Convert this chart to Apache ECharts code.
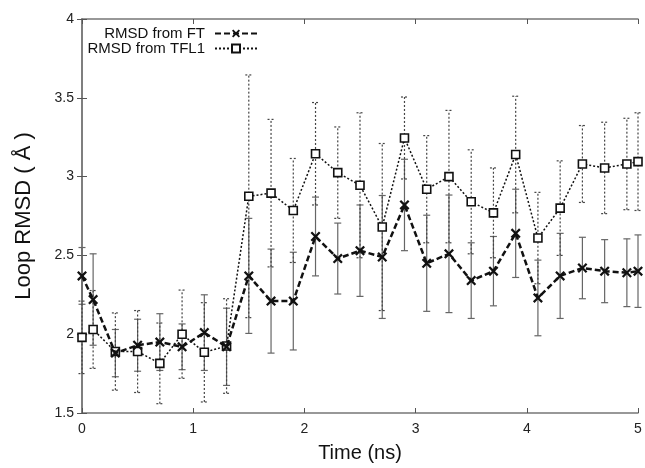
<!DOCTYPE html>
<html>
<head>
<meta charset="utf-8">
<script src="https://cdn.jsdelivr.net/npm/echarts@6/dist/echarts.min.js"></script>
<style>
html,body{margin:0;padding:0;background:#fff;}
#chart{width:645px;height:468px;}
</style>
</head>
<body>
<div id="chart"></div>
<script>
// Data
var time = [0, 0.1, 0.3, 0.5, 0.7, 0.9, 1.1, 1.3, 1.5, 1.7, 1.9, 2.1, 2.3, 2.5, 2.7, 2.9, 3.1, 3.3, 3.5, 3.7, 3.9, 4.1, 4.3, 4.5, 4.7, 4.9, 5.0];
var ftMean = [2.37, 2.22, 1.88, 1.93, 1.95, 1.92, 2.01, 1.92, 2.37, 2.21, 2.21, 2.62, 2.48, 2.53, 2.49, 2.82, 2.45, 2.51, 2.34, 2.40, 2.64, 2.23, 2.37, 2.42, 2.40, 2.39, 2.40];
var ftErr = [0.18, 0.29, 0.15, 0.165, 0.18, 0.145, 0.24, 0.245, 0.365, 0.33, 0.31, 0.25, 0.225, 0.29, 0.39, 0.29, 0.305, 0.373, 0.24, 0.22, 0.28, 0.24, 0.27, 0.195, 0.20, 0.215, 0.23];
var tflMean = [1.98, 2.03, 1.89, 1.89, 1.815, 2.00, 1.885, 1.925, 2.875, 2.895, 2.785, 3.145, 3.025, 2.945, 2.68, 3.245, 2.92, 3.00, 2.84, 2.77, 3.14, 2.61, 2.80, 3.08, 3.055, 3.08, 3.095];
var tflErr = [0.23, 0.247, 0.245, 0.26, 0.256, 0.28, 0.315, 0.30, 0.77, 0.468, 0.33, 0.325, 0.29, 0.46, 0.53, 0.26, 0.34, 0.42, 0.33, 0.285, 0.37, 0.29, 0.30, 0.244, 0.29, 0.29, 0.31];
var xTicks = [0, 1, 2, 3, 4, 5];
var yTicks = [1.5, 2, 2.5, 3, 3.5, 4];
var seriesNames = ['RMSD from FT', 'RMSD from TFL1'];

var FONT = '"Liberation Sans", Arial, sans-serif';
var X_MARK = 'path://M0,1.6 L1.6,0 L5,3.4 L8.4,0 L10,1.6 L6.6,5 L10,8.4 L8.4,10 L5,6.6 L1.6,10 L0,8.4 L3.4,5 Z';

function pairs(xs, ys) { return xs.map(function (x, i) { return [x, ys[i]]; }); }
function errData(xs, m, e) { return xs.map(function (x, i) { return [x, m[i] - e[i], m[i] + e[i]]; }); }

function errRender(color, dash) {
  return function (params, api) {
    var x = api.value(0), lo = api.value(1), hi = api.value(2);
    var pLo = api.coord([x, lo]), pHi = api.coord([x, hi]);
    var hw = 3.5;
    var st = { stroke: color, lineWidth: 1.2, lineDash: dash };
    return {
      type: 'group',
      children: [
        { type: 'line', shape: { x1: pLo[0], y1: pLo[1], x2: pHi[0], y2: pHi[1] }, style: st },
        { type: 'line', shape: { x1: pLo[0] - hw, y1: pLo[1], x2: pLo[0] + hw, y2: pLo[1] }, style: st },
        { type: 'line', shape: { x1: pHi[0] - hw, y1: pHi[1], x2: pHi[0] + hw, y2: pHi[1] }, style: st }
      ]
    };
  };
}

var axisLine = { show: true, lineStyle: { color: '#777', width: 1.5 } };
var tickIn = { show: true, inside: true, length: 5, lineStyle: { color: '#555', width: 1 } };
var legendText = { fontFamily: FONT, fontSize: 15, color: '#111', padding: [0, 5, 0, 0] };

var chart = echarts.init(document.getElementById('chart'), null, { renderer: 'canvas' });
chart.setOption({
  animation: false,
  backgroundColor: '#ffffff',
  textStyle: { fontFamily: FONT },
  grid: { left: 82, right: 7, top: 19, bottom: 52 },
  legend: [
    {
      data: [seriesNames[0]], right: 382, top: 21, orient: 'vertical', align: 'right',
      itemWidth: 42, itemHeight: 10, selectedMode: false, textStyle: legendText
    },
    {
      data: [seriesNames[1]], right: 382, top: 36, orient: 'vertical', align: 'right',
      itemWidth: 42, itemHeight: 10, selectedMode: false, textStyle: legendText
    }
  ],
  xAxis: [
    {
      type: 'value', min: xTicks[0], max: xTicks[xTicks.length - 1], interval: 1,
      name: 'Time (ns)', nameLocation: 'middle', nameGap: 30,
      nameTextStyle: { fontFamily: FONT, fontSize: 20, color: '#111' },
      axisLine: axisLine, axisTick: tickIn, splitLine: { show: false },
      axisLabel: { fontFamily: FONT, fontSize: 14, color: '#222', margin: 9 }
    },
    {
      type: 'value', position: 'top', min: xTicks[0], max: xTicks[xTicks.length - 1], interval: 1,
      axisLine: axisLine, axisTick: tickIn, splitLine: { show: false }, axisLabel: { show: false }
    }
  ],
  yAxis: [
    {
      type: 'value', min: yTicks[0], max: yTicks[yTicks.length - 1], interval: 0.5,
      name: 'Loop RMSD ( Å )', nameLocation: 'middle', nameGap: 47,
      nameTextStyle: { fontFamily: FONT, fontSize: 22, color: '#111' },
      axisLine: axisLine, axisTick: tickIn, splitLine: { show: false },
      axisLabel: { fontFamily: FONT, fontSize: 14, color: '#222', margin: 8 }
    },
    {
      type: 'value', position: 'right', min: yTicks[0], max: yTicks[yTicks.length - 1], interval: 0.5,
      axisLine: axisLine, axisTick: tickIn, splitLine: { show: false }, axisLabel: { show: false }
    }
  ],
  series: [
    {
      type: 'custom', name: 'ftErr', renderItem: errRender('#666', null),
      data: errData(time, ftMean, ftErr), encode: { x: 0, y: [1, 2] }, clip: false, z: 2, silent: true
    },
    {
      type: 'custom', name: 'tflErr', renderItem: errRender('#444', [2, 2]),
      data: errData(time, tflMean, tflErr), encode: { x: 0, y: [1, 2] }, clip: false, z: 2, silent: true
    },
    {
      type: 'line', name: seriesNames[1], data: pairs(time, tflMean), z: 3,
      symbol: 'rect', symbolSize: 8, showAllSymbol: true,
      lineStyle: { color: '#111', width: 1.5, type: [2, 2] },
      itemStyle: { color: '#fff', borderColor: '#111', borderWidth: 1.6 }
    },
    {
      type: 'line', name: seriesNames[0], data: pairs(time, ftMean), z: 4,
      symbol: X_MARK, symbolSize: 10, showAllSymbol: true,
      lineStyle: { color: '#111', width: 2.5, type: [6, 3] },
      itemStyle: { color: '#111' }
    }
  ]
});
</script>
</body>
</html>
